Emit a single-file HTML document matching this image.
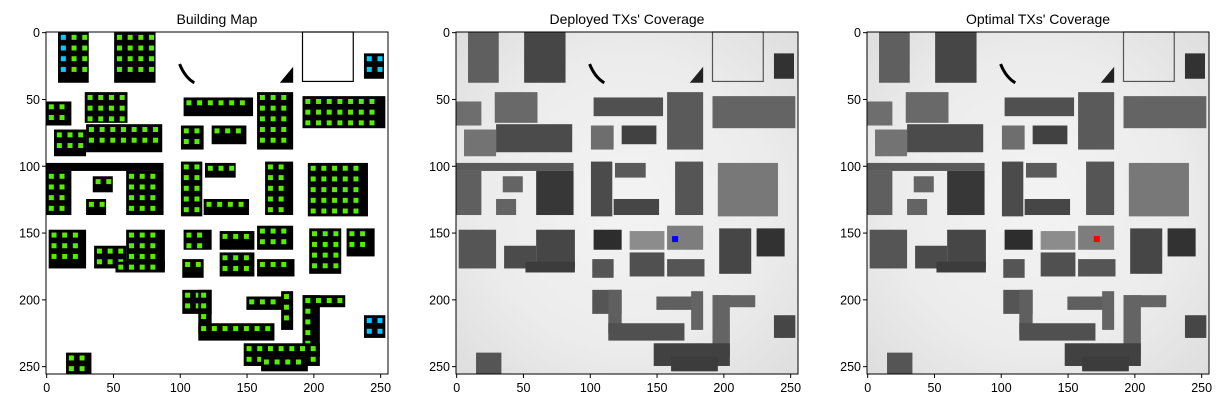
<!DOCTYPE html>
<html><head><meta charset="utf-8"><style>
html,body{margin:0;padding:0;background:#fff;}
svg{display:block;font-family:"Liberation Sans","DejaVu Sans",sans-serif;}
</style></head><body>
<svg id="fig" width="1224" height="407" viewBox="0 0 1224 407" xmlns="http://www.w3.org/2000/svg">
<defs><radialGradient id="bgg" cx="0.5" cy="0.5" r="0.7"><stop offset="0" stop-color="#f3f3f3"/><stop offset="0.6" stop-color="#ececec"/><stop offset="1" stop-color="#dedede"/></radialGradient></defs>
</svg>
<script>
// building footprints in map coords: x0,y0,x1,y1
const bx0=[9,51,0,29,6,30,0,0,60,35,30,2,36,60,103,101,124,158,192,101,119,118,164,196,103,130,158,197,225,102,130,158,52,102,114,114,150,176,192,192,148,161,238,15,238];
const by0=[0,0,52,45,73,69,98,104,104,108,125,148,160,148,49,70,70,45,48,97,98,125,97,98,148,149,145,147,147,170,165,170,172,193,193,218,198,194,197,197,233,243,212,240,16];
const bx1=[32,82,19,61,30,87,88,19,88,50,45,30,60,89,155,118,150,185,254,117,142,152,185,241,124,156,185,221,246,118,156,186,89,124,124,171,181,185,205,224,205,196,254,34,253];
const by1=[38,38,70,68,93,90,104,137,137,120,137,177,177,177,63,88,84,88,72,138,109,137,137,138,163,163,163,181,168,184,183,183,180,211,226,231,208,223,243,206,250,254,229,256,35];
const shade=[95,70,110,105,115,75,90,95,55,100,100,85,75,70,80,110,65,90,100,75,90,70,85,120,45,140,125,70,50,85,80,85,60,85,95,80,95,100,100,100,65,60,70,85,50];
// transmitters
const txDeployed=[164,155];
const txOptimal=[172,155];
const ticks=[0,50,100,150,200,250];
const panels=[{x:46,title:"Building Map"},{x:456,title:"Deployed TXs' Coverage"},{x:867,title:"Optimal TXs' Coverage"}];
const Y0=32, W=342, S=W/256;
const NS="http://www.w3.org/2000/svg";
const svg=document.getElementById('fig');
function mk(tag,at,parent){const e=document.createElementNS(NS,tag);for(const k in at)e.setAttribute(k,at[k]);(parent||svg).appendChild(e);return e;}
panels.forEach((p,pi)=>{
  const g=mk('g',{});
  
  
  const sx=v=>p.x+v*S, sy=v=>Y0+v*S;
  const bg=mk('rect',{x:p.x,y:Y0,width:W,height:W,fill:pi==0?'#ffffff':'url(#bgg)'},g);
  
  
  for(let i=0;i<bx0.length;i++){
    const c=pi==0?'#000':'rgb('+shade[i]+','+shade[i]+','+shade[i]+')';
    const r=mk('rect',{x:sx(bx0[i]),y:sy(by0[i]),width:(bx1[i]-bx0[i])*S,height:(by1[i]-by0[i])*S,fill:c},g);
    
    
    if(pi==0){
      for(let xx=bx0[i]+4;xx<bx1[i]-2;xx+=8)for(let yy=by0[i]+4;yy<by1[i]-2;yy+=8){
        const cy=(xx<14&&yy<40)||(xx>240&&(yy<40||yy>100));
        const d=mk('rect',{x:sx(xx)-2.5,y:sy(yy)-2.5,width:5,height:5,fill:cy?'#00ccff':'#55ee00'},g);
        
        
      }
    }
  }
  mk('rect',{x:sx(192),y:sy(0),width:38*S,height:37*S,fill:'none',stroke:pi==0?'#000':'#555','stroke-width':1.2},g);
  mk('path',{d:`M${sx(100)} ${sy(24)} Q${sx(104)} ${sy(34)} ${sx(111)} ${sy(38)}`,fill:'none',stroke:'#000','stroke-width':3},g);
  mk('path',{d:`M${sx(175)} ${sy(38)} L${sx(185)} ${sy(26)} L${sx(185)} ${sy(38)} Z`,fill:pi==0?'#000':'#222'},g);
  if(pi>0){
    const t=pi==1?txDeployed:txOptimal;
    const m=mk('rect',{x:sx(t[0])-3,y:sy(t[1])-3,width:6,height:6,fill:pi==1?'#0000ff':'#ff0000'},g);
    
    
  }
  const fr=mk('rect',{x:p.x,y:Y0,width:W,height:W,fill:'none',stroke:'#000','stroke-width':1},g);
  
  
  ticks.forEach(t=>{
    const tx=sx(t+0.5), ty=sy(t+0.5);
    mk('line',{x1:tx,y1:Y0+W,x2:tx,y2:Y0+W+4,stroke:'#000'},g);
    const xl=mk('text',{x:tx,y:Y0+W+18,'text-anchor':'middle','font-size':12.5,fill:'#000'},g);
    xl.textContent=t;
    
    
    mk('line',{x1:p.x-4,y1:ty,x2:p.x,y2:ty,stroke:'#000'},g);
    const yl=mk('text',{x:p.x-6,y:ty+4.5,'text-anchor':'end','font-size':12.5,fill:'#000'},g);
    yl.textContent=t;
    
    
  });
  const ti=mk('text',{x:p.x+W/2,y:24,'text-anchor':'middle','font-size':14,fill:'#000'},g);
  ti.textContent=p.title;
  
  
});
</script>
</body></html>
